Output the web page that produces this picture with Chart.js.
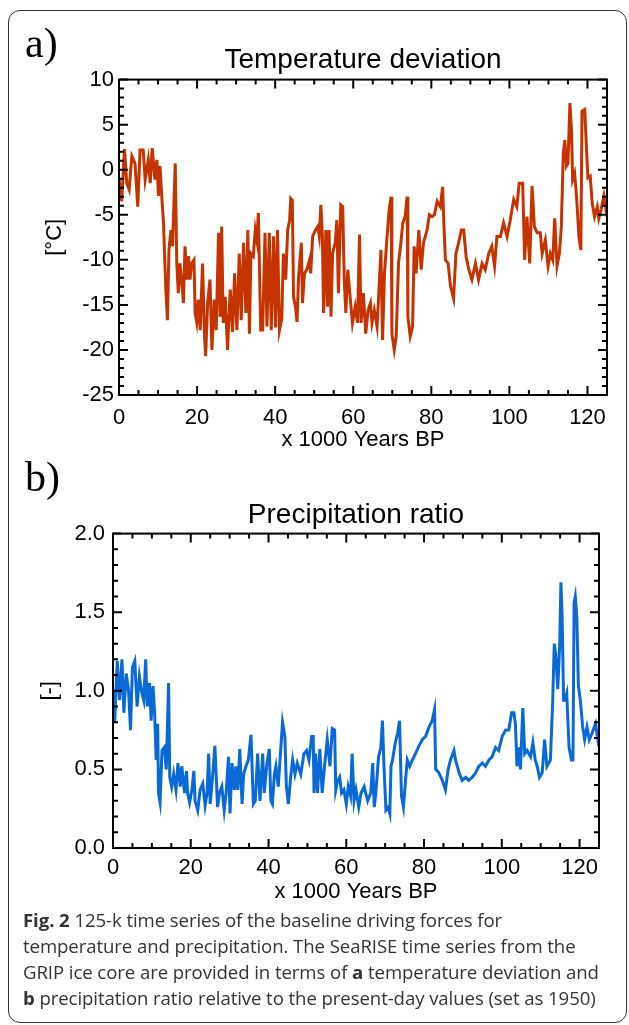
<!DOCTYPE html>
<html>
<head>
<meta charset="utf-8">
<script src="https://cdn.jsdelivr.net/npm/chart.js@4.4.1/dist/chart.umd.min.js"></script>
<style>
    body { margin: 0; background: #fff; }
    #page { position: relative; width: 629px; height: 1025px; overflow: hidden; }
    .frame {
        position: absolute; left: 8px; top: 10px; width: 619px; height: 1013px;
        border: 1.5px solid #333; border-radius: 12px; box-sizing: border-box;
    }
    .panel-label {
        position: absolute; font-family: "Liberation Serif", "Times New Roman", serif;
        font-size: 42px; line-height: 42px; color: #000;
    }
    canvas { position: absolute; left: 0; }
    .caption {
        position: absolute; left: 23px; top: 907px; white-space: nowrap;
        font-family: "Open Sans", "Noto Sans", sans-serif; font-size: 18.6px;
        line-height: 26px; color: #333; letter-spacing: -0.08px;
    }
</style>
</head>
<body>
<div id="page">
    <div class="frame"></div>
    <canvas id="tempChart" width="629" height="460" style="top:0"></canvas>
    <canvas id="precChart" width="629" height="460" style="top:460px"></canvas>
    <div class="panel-label" style="left:25px; top:22px">a)</div>
    <div class="panel-label" style="left:25px; top:456px">b)</div>
    <div class="caption"><b>Fig. 2</b> 125-k time series of the baseline driving forces for<br>temperature and precipitation. The SeaRISE time series from the<br>GRIP ice core are provided in terms of <b>a</b> temperature deviation and<br><b>b</b> precipitation ratio relative to the present-day values (set as 1950)</div>
</div>
<script>
// Data (x 1000 years BP)
const yearTicks = [0, 20, 40, 60, 80, 100, 120];
const tempTicks = [-25, -20, -15, -10, -5, 0, 5, 10];
const precTicks = [0, 0.5, 1, 1.5, 2];

const tempYears = [
    0, 0.7, 1.4, 2.0, 2.6, 3.3, 4.1, 4.8, 5.4, 6.2,
    6.7, 7.5, 8.0, 8.5, 9.2, 9.7, 10.1, 10.5, 11.0, 11.4,
    11.6, 12.0, 12.4, 12.8, 13.3, 13.7, 14.4, 14.8, 15.2, 15.6,
    16.1, 16.5, 16.9, 17.4, 17.8, 18.2, 18.6, 19.2, 19.5, 19.9,
    20.3, 20.8, 21.4, 21.9, 22.2, 22.7, 23.3, 23.8, 24.4, 24.9,
    25.5, 25.9, 26.3, 26.7, 27.2, 27.8, 28.5, 29.1, 29.6, 30.2,
    30.8, 31.3, 31.9, 32.5, 33.0, 33.4, 33.8, 34.4, 34.9, 35.3,
    35.7, 36.3, 36.8, 37.4, 37.9, 38.5, 39.0, 39.6, 40.1, 40.6,
    41.1, 41.7, 42.1, 42.7, 43.2, 43.7, 44.0, 44.4, 44.7, 45.2,
    45.6, 46.0, 46.7, 47.0, 47.5, 48.1, 48.8, 49.1, 49.6, 50.3,
    50.9, 51.3, 51.7, 52.1, 52.4, 53.0, 53.4, 53.8, 54.3, 54.7,
    55.4, 55.8, 56.2, 56.8, 57.3, 57.7, 58.1, 58.6, 59.2, 59.8,
    60.5, 61.1, 61.6, 62.0, 62.6, 63.2, 63.8, 64.4, 64.8, 65.4,
    66.1, 66.5, 67.1, 67.5, 68.0, 68.6, 69.2, 69.7, 69.9, 70.5,
    71.0, 71.6, 72.2, 72.7, 73.3, 73.8, 74.0, 74.6, 75.2, 75.6,
    76.1, 76.8, 77.4, 78.0, 78.9, 79.5, 80.2, 80.8, 81.5, 82.3,
    82.9, 83.2, 83.6, 84.3, 84.9, 85.7, 86.3, 87.0, 87.7, 88.3,
    88.9, 89.6, 90.4, 91.3, 92.1, 93.0, 93.8, 94.7, 95.5, 96.2,
    96.8, 97.7, 98.5, 99.4, 100.2, 101.1, 101.9, 102.5, 103.4, 103.9,
    104.5, 105.2, 105.8, 106.4, 107.1, 107.9, 108.4, 109.2, 109.9, 110.5,
    111.1, 111.6, 112.2, 112.8, 113.3, 113.8, 114.2, 114.6, 115.0, 115.5,
    115.9, 116.2, 116.7, 117.2, 117.8, 118.3, 118.6, 119.3, 119.6, 120.1,
    120.7, 121.2, 121.8, 122.5, 122.9, 123.5, 124.2, 125.0
];
const tempValues = [
    -1.0, -3.5, 2.3, -1.5, -2.2, 1.5, 0.7, -4.1, 2.2, 2.2,
    -1.1, 1.1, -1.5, 2.4, -1.1, 1.1, -2.9, 0.4, -3.3, -5.9,
    -8.5, -13.3, -16.7, -8.9, -6.7, -8.5, 0.7, -10.4, -13.7, -10.4,
    -12.6, -14.8, -8.5, -12.2, -9.6, -12.2, -10.4, -10.0, -15.9, -16.9,
    -14.4, -17.8, -10.4, -18.5, -20.7, -14.8, -12.2, -20.0, -14.4, -17.8,
    -7.0, -16.3, -6.3, -17.0, -14.1, -20.0, -13.3, -18.0, -11.5, -17.8,
    -9.3, -16.7, -8.1, -15.9, -6.7, -18.2, -9.3, -9.6, -6.7, -7.8,
    -4.8, -17.8, -17.8, -7.0, -17.4, -7.0, -17.8, -7.4, -17.5, -6.7,
    -17.8, -16.5, -9.3, -12.2, -6.7, -5.6, -3.2, -3.4, -14.1, -15.2,
    -16.9, -11.9, -8.1, -14.8, -11.5, -11.1, -10.0, -11.5, -7.4, -6.7,
    -6.3, -7.4, -3.9, -7.4, -15.9, -6.7, -15.2, -6.7, -16.3, -9.3,
    -8.1, -5.6, -13.7, -3.9, -4.1, -12.2, -15.9, -11.1, -14.1, -17.0,
    -15.2, -17.0, -7.2, -17.0, -13.7, -18.2, -15.6, -14.8, -17.0, -15.6,
    -17.4, -14.1, -8.9, -18.9, -11.5, -7.8, -4.4, -3.0, -18.2, -20.0,
    -18.5, -10.4, -8.1, -5.9, -5.2, -3.0, -16.3, -18.5, -17.4, -8.5,
    -11.5, -6.7, -11.1, -8.1, -6.7, -5.0, -5.2, -5.0, -3.5, -4.1,
    -1.9, -5.9, -10.0, -10.4, -12.9, -14.3, -9.3, -8.1, -6.7, -6.7,
    -9.6, -11.1, -12.2, -10.4, -12.2, -10.4, -11.1, -9.3, -8.5, -10.7,
    -7.4, -7.4, -5.9, -7.4, -5.6, -3.3, -4.1, -1.5, -1.5, -10.0,
    -5.2, -10.4, -1.8, -6.3, -7.0, -7.0, -9.3, -7.8, -10.7, -9.3,
    -10.0, -5.4, -10.7, -9.3, -6.3, 1.8, 3.3, 0.4, 0.7, 7.4,
    4.4, -1.1, -0.4, -3.0, -7.4, -8.9, 6.5, 6.7, 3.7, -0.9,
    -0.7, -3.7, -5.2, -4.1, -5.4, -4.4, -2.9, -5.2
];

const precYears = [
    0, 0.43, 1.1, 1.7, 2.3, 2.8, 3.4, 4.0, 4.5, 5.0,
    5.6, 6.2, 6.8, 7.4, 7.9, 8.4, 8.8, 9.4, 9.8, 10.3,
    10.7, 11.1, 11.5, 11.7, 12.1, 12.6, 13.2, 13.7, 14.3, 14.6,
    15.1, 15.6, 16.2, 16.7, 17.3, 17.7, 18.4, 18.9, 19.2, 19.7,
    20.3, 20.8, 21.1, 21.8, 22.4, 23.1, 23.7, 24.2, 24.6, 25.0,
    25.6, 26.2, 26.9, 27.4, 28.0, 28.6, 29.1, 29.7, 30.1, 30.6,
    31.2, 31.6, 32.1, 32.6, 33.2, 33.6, 34.2, 34.8, 35.5, 36.1,
    36.6, 37.2, 37.8, 38.5, 38.9, 39.6, 40.2, 40.6, 41.0, 41.5,
    41.9, 42.5, 43.2, 43.6, 44.2, 44.6, 45.1, 45.7, 46.2, 46.8,
    47.4, 48.3, 49.1, 49.8, 50.4, 51.1, 51.5, 51.7, 52.1, 52.6,
    53.2, 53.8, 54.4, 55.1, 55.8, 56.4, 57.0, 57.3, 57.7, 58.3,
    58.8, 59.4, 60.0, 60.5, 61.1, 61.5, 62.0, 62.5, 63.2, 63.8,
    64.6, 65.5, 66.3, 66.8, 67.2, 67.6, 68.3, 68.9, 69.3, 69.7,
    70.2, 70.8, 71.2, 71.5, 71.9, 72.6, 73.2, 73.7, 74.2, 74.7,
    75.3, 75.7, 76.3, 77.0, 77.8, 78.7, 79.6, 80.4, 81.3, 82.1,
    82.7, 83.0, 83.8, 84.7, 85.5, 86.2, 86.8, 87.7, 88.1, 89.0,
    89.8, 90.7, 91.5, 92.4, 93.3, 94.1, 95.0, 95.8, 96.7, 97.5,
    98.4, 99.2, 100.1, 101.0, 101.8, 102.5, 103.1, 103.5, 103.9, 104.4,
    104.8, 105.4, 105.9, 106.5, 107.4, 108.0, 108.6, 109.1, 109.7, 110.4,
    111.0, 111.6, 112.5, 113.1, 113.5, 113.9, 114.4, 114.9, 115.2, 115.5,
    115.9, 116.3, 116.7, 117.0, 117.3, 117.9, 118.3, 118.6, 118.9, 119.3,
    119.7, 120.2, 120.8, 121.3, 121.9, 122.5, 123.2, 124.1, 124.7, 125.0
];
const precValues = [
    1.00, 0.80, 1.19, 0.94, 1.20, 0.86, 1.11, 1.00, 0.75, 1.15,
    1.19, 0.90, 1.09, 0.99, 0.94, 1.20, 0.90, 1.05, 0.81, 1.03,
    0.86, 0.56, 0.79, 0.35, 0.29, 0.62, 0.64, 0.50, 1.05, 0.45,
    0.39, 0.47, 0.37, 0.54, 0.39, 0.52, 0.35, 0.49, 0.35, 0.29,
    0.37, 0.49, 0.30, 0.24, 0.37, 0.41, 0.27, 0.35, 0.60, 0.28,
    0.45, 0.65, 0.26, 0.35, 0.39, 0.24, 0.35, 0.58, 0.22, 0.54,
    0.37, 0.52, 0.37, 0.63, 0.28, 0.47, 0.52, 0.56, 0.72, 0.28,
    0.30, 0.60, 0.30, 0.60, 0.35, 0.54, 0.63, 0.30, 0.28, 0.47,
    0.52, 0.39, 0.65, 0.80, 0.71, 0.39, 0.28, 0.45, 0.56, 0.47,
    0.54, 0.47, 0.60, 0.62, 0.56, 0.71, 0.71, 0.35, 0.60, 0.35,
    0.63, 0.35, 0.52, 0.69, 0.52, 0.76, 0.75, 0.37, 0.42, 0.45,
    0.35, 0.37, 0.28, 0.39, 0.33, 0.60, 0.30, 0.37, 0.26, 0.35,
    0.39, 0.30, 0.35, 0.54, 0.26, 0.35, 0.58, 0.64, 0.81, 0.52,
    0.24, 0.26, 0.22, 0.52, 0.56, 0.67, 0.73, 0.81, 0.33, 0.26,
    0.45, 0.56, 0.52, 0.56, 0.60, 0.65, 0.69, 0.71, 0.77, 0.81,
    0.88, 0.50, 0.48, 0.43, 0.37, 0.50, 0.56, 0.62, 0.56, 0.48,
    0.43, 0.45, 0.43, 0.45, 0.48, 0.52, 0.54, 0.52, 0.56, 0.58,
    0.64, 0.62, 0.71, 0.75, 0.75, 0.86, 0.86, 0.79, 0.52, 0.64,
    0.50, 0.89, 0.60, 0.62, 0.58, 0.67, 0.56, 0.52, 0.45, 0.48,
    0.69, 0.52, 0.56, 0.94, 1.30, 1.22, 1.01, 1.30, 1.69, 1.48,
    0.94, 0.94, 0.98, 0.81, 0.64, 0.56, 0.56, 1.56, 1.60, 1.47,
    1.03, 0.94, 0.77, 0.69, 0.77, 0.69, 0.73, 0.79, 0.69, 0.72
];

const FONT = '"Liberation Sans", Arial, Helvetica, sans-serif';

// IDL-style box: frame plus inward major/minor ticks on all four sides
const boxTicks = {
    id: 'boxTicks',
    afterDraw(chart, args, opts) {
        const { ctx, chartArea: a, scales: { x, y } } = chart;
        const isMajor = (v, list) => list.some(m => Math.abs(m - v) < 1e-6);
        ctx.save();
        ctx.strokeStyle = '#000';
        ctx.lineWidth = 2;
        ctx.lineCap = 'butt';
        for (let v = x.min; v <= x.max + 1e-6; v += opts.xMinor) {
            const px = x.getPixelForValue(v);
            const len = isMajor(v, opts.xMajor) ? 9 : 5;
            ctx.beginPath();
            ctx.moveTo(px, a.bottom); ctx.lineTo(px, a.bottom - len);
            ctx.moveTo(px, a.top); ctx.lineTo(px, a.top + len);
            ctx.stroke();
        }
        for (let i = 0; y.min + i * opts.yMinor <= y.max + 1e-6; i++) {
            const v = y.min + i * opts.yMinor;
            const py = y.getPixelForValue(v);
            const len = isMajor(v, opts.yMajor) ? 9 : 5;
            ctx.beginPath();
            ctx.moveTo(a.left, py); ctx.lineTo(a.left + len, py);
            ctx.moveTo(a.right, py); ctx.lineTo(a.right - len, py);
            ctx.stroke();
        }
        ctx.strokeRect(a.left, a.top, a.right - a.left, a.bottom - a.top);
        ctx.restore();
    }
};

function makeChart(id, cfg) {
    const ctx = document.getElementById(id).getContext('2d');
    return new Chart(ctx, {
        type: 'line',
        data: {
            datasets: [{
                data: cfg.xs.map((t, i) => ({ x: t, y: cfg.ys[i] })),
                borderColor: cfg.color,
                borderWidth: 3,
                pointRadius: 0,
                tension: 0,
                fill: false
            }]
        },
        options: {
            responsive: false,
            animation: false,
            devicePixelRatio: 1,
            layout: { padding: { left: 0, right: cfg.padRight, top: 0, bottom: 0 } },
            plugins: {
                legend: { display: false },
                tooltip: { enabled: false },
                title: {
                    display: true,
                    text: cfg.title,
                    fullSize: false,
                    color: '#000',
                    font: { family: FONT, size: 28, weight: 'normal' },
                    padding: cfg.titlePad
                },
                boxTicks: { xMajor: yearTicks, xMinor: 5, yMajor: cfg.yTicks, yMinor: cfg.yMinor }
            },
            scales: {
                x: {
                    type: 'linear',
                    min: 0,
                    max: 125,
                    afterBuildTicks: s => { s.ticks = yearTicks.map(v => ({ value: v })); },
                    afterFit: s => { s.height = cfg.xHeight; },
                    grid: { display: false, drawTicks: false },
                    border: { display: false },
                    ticks: {
                        color: '#000', padding: cfg.xTickPad, maxRotation: 0, autoSkip: false,
                        font: { family: FONT, size: 22 }
                    },
                    title: {
                        display: true, text: 'x 1000 Years BP', color: '#000',
                        font: { family: FONT, size: 22 },
                        padding: { top: 0, bottom: cfg.xTitlePad }
                    }
                },
                y: {
                    min: cfg.yTicks[0],
                    max: cfg.yTicks[cfg.yTicks.length - 1],
                    afterBuildTicks: s => { s.ticks = cfg.yTicks.map(v => ({ value: v })); },
                    afterFit: s => { s.width = cfg.yWidth; },
                    grid: { display: false, drawTicks: false },
                    border: { display: false },
                    ticks: {
                        color: '#000', padding: cfg.yTickPad, autoSkip: false,
                        font: { family: FONT, size: 22 },
                        callback: cfg.yFormat
                    },
                    title: {
                        display: true, text: cfg.yTitle, color: '#000',
                        font: { family: FONT, size: 22 },
                        padding: { top: cfg.yTitlePad, bottom: 0 }
                    }
                }
            }
        },
        plugins: [boxTicks]
    });
}

document.addEventListener('DOMContentLoaded', function() {
    // Temperature deviation
    makeChart('tempChart', {
        xs: tempYears, ys: tempValues, color: '#c43300',
        title: 'Temperature deviation', titlePad: { top: 43, bottom: 3 },
        yTicks: tempTicks, yMinor: 1, yTitle: '[°C]', yTitlePad: 42,
        yFormat: v => String(v),
        yWidth: 119, padRight: 22, xHeight: 65,
        xTickPad: 10, xTitlePad: 7, yTickPad: 5
    });

    // Precipitation ratio
    makeChart('precChart', {
        xs: precYears, ys: precValues, color: '#0a69d6',
        title: 'Precipitation ratio', titlePad: { top: 38, bottom: 2 },
        yTicks: precTicks, yMinor: 0.1, yTitle: '[-]', yTitlePad: 37,
        yFormat: v => v.toFixed(1),
        yWidth: 113, padRight: 30, xHeight: 72,
        xTickPad: 7, xTitlePad: 15, yTickPad: 8
    });
});
</script>
</body>
</html>
